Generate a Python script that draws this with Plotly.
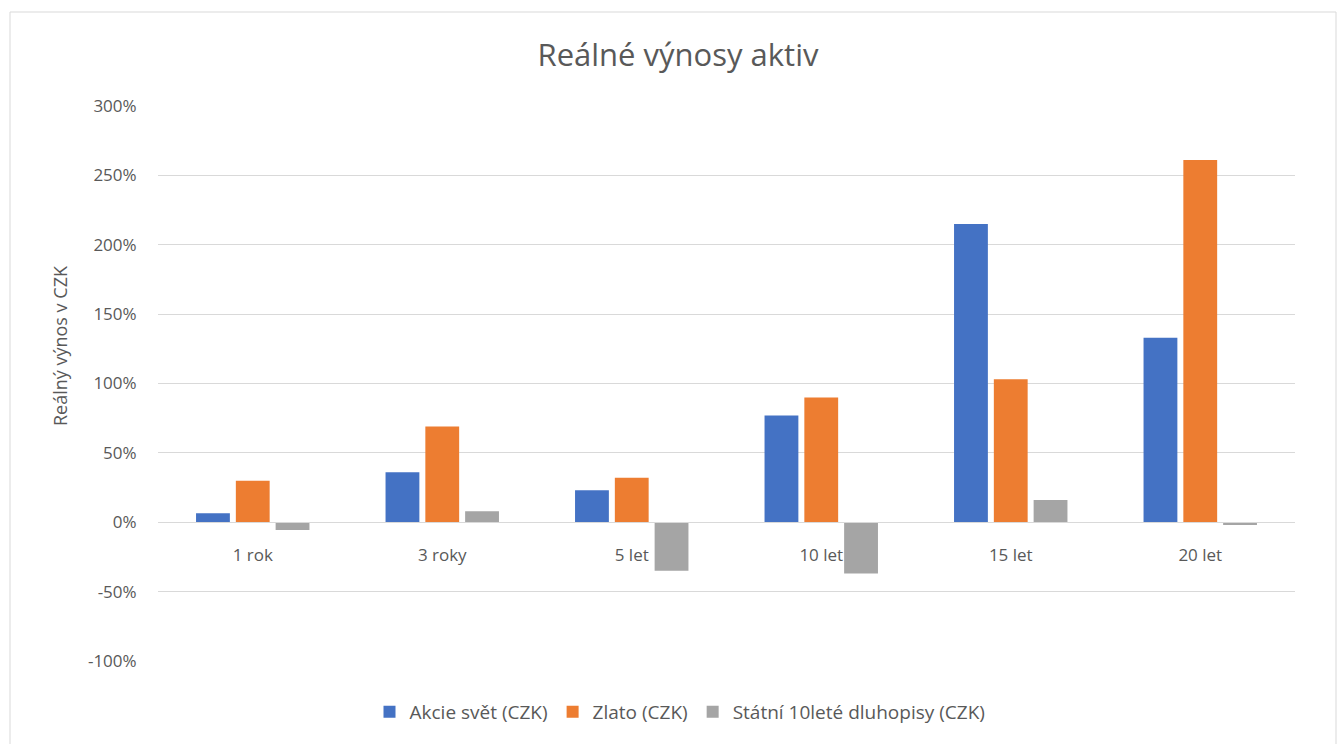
import plotly.graph_objects as go

categories = ["1 rok", "3 roky", "5 let", "10 let", "15 let", "20 let"]
akcie = [6.5, 36, 23, 77, 215, 133]
zlato = [30, 69, 32, 90, 103, 261]
statni = [-5.5, 8, -35, -37, 16, -2]
series_names = ["Akcie svět (CZK)", "Zlato (CZK)", "Státní 10leté dluhopisy (CZK)"]
colors = ["#4472C4", "#ED7D31", "#A5A5A5"]
tick_vals = [-100, -50, 0, 50, 100, 150, 200, 250, 300]
tick_text = [f"{v}%" for v in tick_vals]

FONT = "Open Sans, sans-serif"
GREY = "#595959"

fig = go.Figure()
for name, vals, c in zip(series_names, [akcie, zlato, statni], colors):
    fig.add_trace(go.Bar(x=categories, y=vals, name=name, marker=dict(color=c, line=dict(width=0))))

W, H = 1338, 744
L, R, T, B = 158, 43, 106, 83
pw, ph = W - L - R, H - T - B

fig.update_layout(
    width=W, height=H,
    margin=dict(l=L, r=R, t=T, b=B),
    paper_bgcolor="white", plot_bgcolor="white",
    barmode="group", bargap=0.37, bargroupgap=0.15,
    title=dict(text="Reálné výnosy aktiv", x=678 / W, xanchor="center", y=1 - 55 / H, yanchor="middle",
               font=dict(family=FONT, size=31, color=GREY)),
    font=dict(family=FONT, color=GREY),
    legend=dict(orientation="h", x=(680 - L) / pw, xanchor="center", y=-(712 - 661) / ph, yanchor="middle",
                font=dict(family=FONT, size=19, color=GREY), itemwidth=30, traceorder="normal"),
    yaxis=dict(range=[-100, 300], tickmode="array", tickvals=tick_vals, ticktext=tick_text, showgrid=True,
               gridcolor="#D9D9D9", gridwidth=1, zeroline=False, showline=False,
               tickfont=dict(family=FONT, size=17, color=GREY), ticks="outside", ticklen=17,
               tickcolor="rgba(0,0,0,0)"),
    xaxis=dict(anchor="free", position=0.25, showline=True, linecolor="#D9D9D9", linewidth=1,
               ticks="outside", ticklen=17, tickcolor="rgba(0,0,0,0)",
               tickfont=dict(family=FONT, size=17, color=GREY), showgrid=False),
)

fig.add_annotation(text="Reálný výnos v CZK", xref="paper", yref="paper",
                   x=(60 - L) / pw, y=(661 - 346) / ph, xanchor="center", yanchor="middle",
                   textangle=-90, showarrow=False, font=dict(family=FONT, size=18, color=GREY))

fig.add_shape(type="rect", xref="paper", yref="paper",
              x0=(10 - L) / pw, x1=(1336 - L) / pw, y0=-(760 - (H - B)) / ph,
              y1=((H - B) - 12) / ph, line=dict(color="#D9D9D9", width=1), fillcolor="rgba(0,0,0,0)", layer="below")

fig.write_html("out.html", config={"displayModeBar": False},
               post_script="document.body.style.margin='0';document.body.style.padding='0';")
